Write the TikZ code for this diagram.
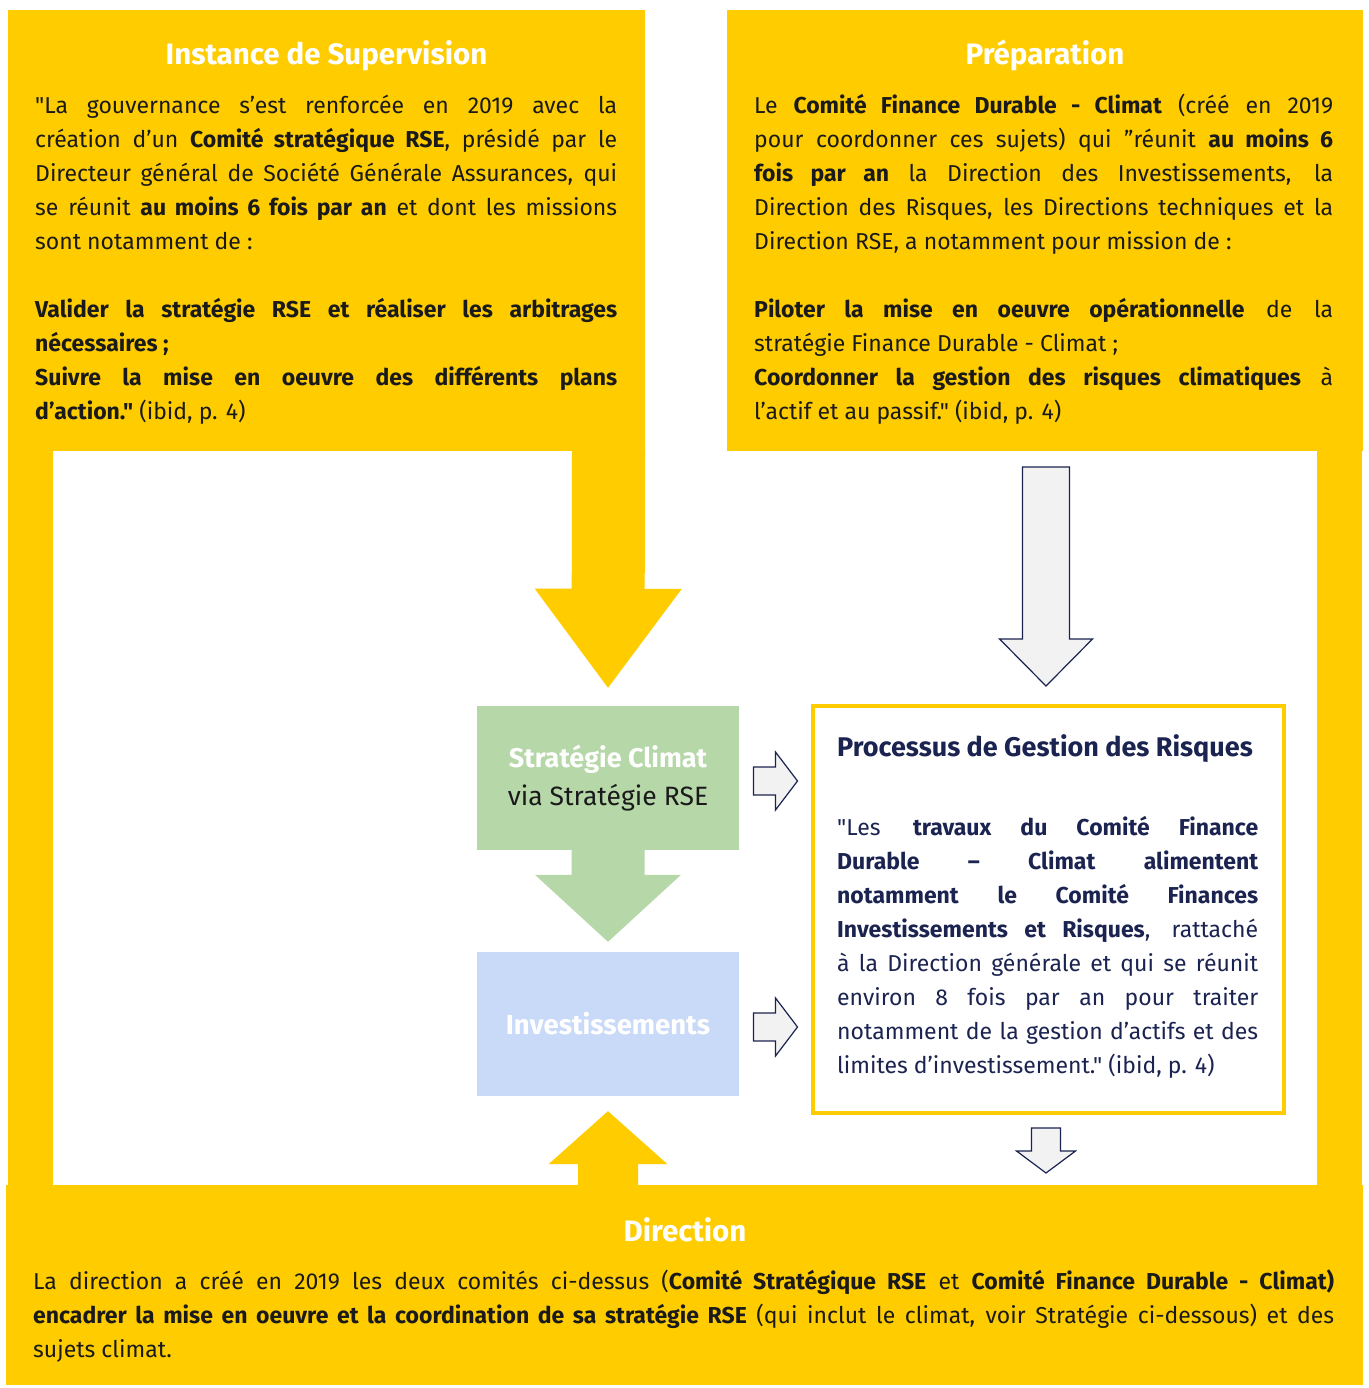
\documentclass[tikz,border=0pt]{standalone}
\usepackage{fontspec}
\setmainfont{Fira Sans}[Ligatures=TeXOff]
\usepackage{xcolor}
\usetikzlibrary{calc}
\usetikzlibrary{positioning}

\definecolor{jaune}{HTML}{FFCC00}
\definecolor{vert}{HTML}{B6D7A8}
\definecolor{bleu}{HTML}{C9DAF8}
\definecolor{marine}{HTML}{1B2350}
\definecolor{gris}{HTML}{F2F2F2}
\definecolor{encre}{HTML}{1A1A1A}

% block arrow: style, tail, tip, half shaft, half head, head length
\newcommand{\blockarrow}[6]{%
	\path[#1] ($(#2)!#4!90:(#3)$) -- ($(#3)!#6!(#2)!#4!90:(#3)$) -- ($(#3)!#6!(#2)!#5!90:(#3)$) -- (#3)
		-- ($(#3)!#6!(#2)!#5!-90:(#3)$) -- ($(#3)!#6!(#2)!#4!-90:(#3)$) -- ($(#2)!#4!-90:(#3)$) -- cycle;
}

\begin{document}
\begin{tikzpicture}[x=1pt, y=-1pt, font=\fontsize{23}{34}\selectfont]
	\tikzstyle{cadre}=[fill=jaune, inner sep=0pt]
	\tikzstyle{titre}=[anchor=base, inner sep=0pt, text=white, font=\fontsize{29.5}{34}\selectfont\bfseries]
	\tikzstyle{texte}=[anchor=north west, inner sep=0pt, align=justify, text=encre, execute at begin node={\hyphenpenalty=10000\exhyphenpenalty=10000}]
	\tikzstyle{bloc}=[minimum width=262pt, minimum height=144pt, inner sep=0pt, align=center]
	\tikzstyle{fleche}=[fill=gris, draw=marine, line width=1.2pt, line join=miter]

	\useasboundingbox[fill=white] (0,0) rectangle (1368,1388);

	% yellow frame
	\node[cadre, minimum width=637pt, minimum height=441pt] (sup) at (326.5,230.5) {};
	\node[cadre, minimum width=636pt, minimum height=441pt] (prep) at (1045,230.5) {};
	\node[cadre, minimum width=1357pt, minimum height=200pt] (dir) at (684.5,1285) {};
	\fill[cadre] (8,450) rectangle (53,1186);
	\fill[cadre] (1317,450) rectangle (1362,1186);

	\node[titre] (suptitle) at (326.5,65) {Instance de Supervision};
	\node[titre] (preptitle) at (1045,65) {Préparation};
	\node[titre] (dirtitle) at (685,1241) {Direction};

	\node[texte, text width=582pt] (suptext) at (35,90) {\strut"La gouvernance s’est renforcée en 2019 avec la\linebreak
		création d’un \textbf{Comité stratégique RSE}, présidé par le\linebreak
		Directeur général de Société Générale Assurances, qui\linebreak
		se réunit \textbf{au moins 6 fois par an} et dont les missions\linebreak
		sont notamment de :\\[34pt]
		\textbf{Valider la stratégie RSE et réaliser les arbitrages\linebreak
		nécessaires ;}\\
		\textbf{Suivre la mise en oeuvre des différents plans\linebreak
		d’action."} (ibid, p. 4)};

	\node[texte, text width=579pt] (preptext) at (754,90) {\strut Le \textbf{Comité Finance Durable - Climat} (créé en 2019\linebreak
		pour coordonner ces sujets) qui ”réunit \textbf{au moins 6\linebreak
		fois par an} la Direction des Investissements, la\linebreak
		Direction des Risques, les Directions techniques et la\linebreak
		Direction RSE, a notamment pour mission de :\\[34pt]
		\textbf{Piloter la mise en oeuvre opérationnelle} de la\linebreak
		stratégie Finance Durable - Climat ;\\
		\textbf{Coordonner la gestion des risques climatiques} à\linebreak
		l’actif et au passif." (ibid, p. 4)};

	\node[texte, text width=1301pt] (dirtext) at (33,1265) {\strut La direction a créé en 2019 les deux comités ci-dessus (\textbf{Comité Stratégique RSE} et \textbf{Comité Finance Durable - Climat)}\linebreak
		\textbf{encadrer la mise en oeuvre et la coordination de sa stratégie RSE} (qui inclut le climat, voir Stratégie ci-dessous) et des\linebreak
		sujets climat.};

	% central column
	\node[bloc, fill=vert, text=encre, font=\fontsize{26.5}{38}\selectfont] (strat) at (608,778) {\textcolor{white}{\fontsize{27}{38}\selectfont\bfseries Stratégie Climat}\\via Stratégie RSE};
	\node[bloc, fill=bleu, text=white, font=\fontsize{27.5}{34}\selectfont\bfseries] (invest) at (608,1024) {Investissements};

	\node[draw=jaune, line width=4pt, minimum width=471pt, minimum height=407pt] (proc) at (1048,909.5) {};
	\node[anchor=base west, inner sep=0pt, text=marine, font=\fontsize{27}{30}\selectfont\bfseries] (proctitle) at (837,756) {Processus de Gestion des Risques};
	\node[texte, text=marine, text width=421pt] (proctext) at (837,811) {\strut"Les \textbf{travaux du Comité Finance\linebreak
		Durable – Climat alimentent\linebreak
		notamment le Comité Finances\linebreak
		Investissements et Risques}, rattaché\linebreak
		à la Direction générale et qui se réunit\linebreak
		environ 8 fois par an pour traiter\linebreak
		notamment de la gestion d’actifs et des\linebreak
		limites d’investissement." (ibid, p. 4)};

	% arrows
	\coordinate (supout) at (608.5,451);
	\coordinate (stratin) at ($(strat.north)+(0,-18)$);
	\coordinate (prepout) at (1046,467);
	\coordinate (procin) at (1046,686);
	\coordinate (investin) at ($(invest.north)+(0,-10)$);
	\coordinate (dirout) at (608,1186);
	\coordinate (investup) at ($(invest.south)+(0,15)$);
	\coordinate (stratout) at (753.5,781);
	\coordinate (stratproc) at (797.5,781);
	\coordinate (investout) at (753.5,1027);
	\coordinate (investproc) at (797.5,1027);
	\coordinate (procout) at (1046,1128);
	\coordinate (procend) at (1046,1173);

	\blockarrow{cadre}{supout}{stratin}{36.5pt}{73.5pt}{99pt}
	\blockarrow{fill=vert}{strat.south}{investin}{36.5pt}{73pt}{67pt}
	\blockarrow{cadre}{dirout}{investup}{30pt}{59.5pt}{53pt}
	\blockarrow{fleche}{prepout}{procin}{23.5pt}{46.5pt}{47pt}
	\blockarrow{fleche}{stratout}{stratproc}{14pt}{29pt}{22pt}
	\blockarrow{fleche}{investout}{investproc}{14pt}{29pt}{22pt}
	\blockarrow{fleche}{procout}{procend}{14.5pt}{29.5pt}{22pt}
\end{tikzpicture}
\end{document}
